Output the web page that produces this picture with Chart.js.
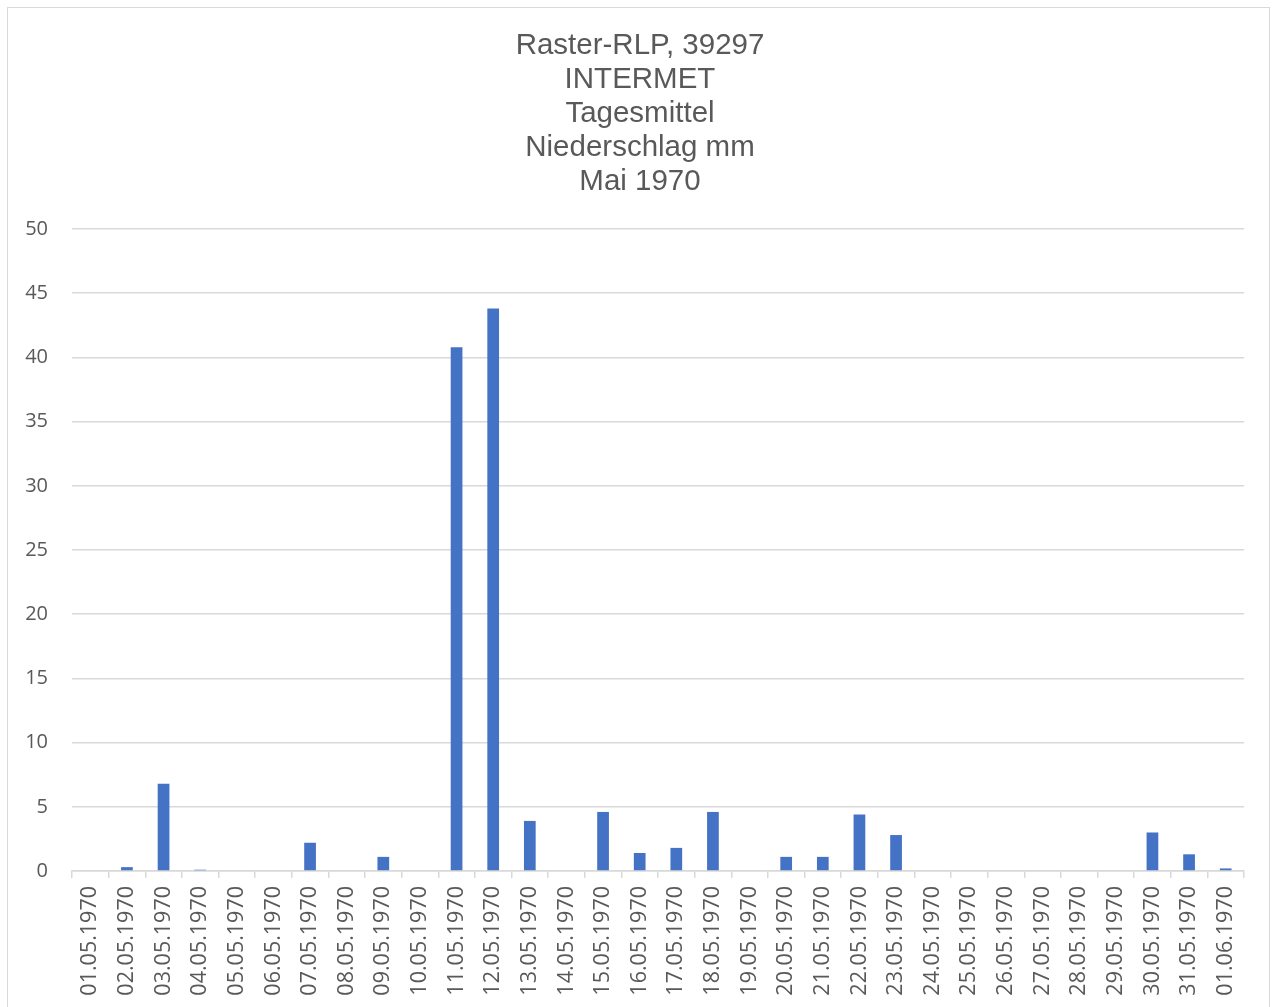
<!DOCTYPE html>
<html>
<head>
<meta charset="utf-8">
<script src="https://cdn.jsdelivr.net/npm/chart.js@4/dist/chart.umd.min.js"></script>
<style>
  html, body { margin: 0; padding: 0; background: #fff; }
  #wrap { position: relative; width: 1274px; height: 1007px; }
  #frame { position: absolute; left: 7px; top: 7px; width: 1263px; height: 1010px; border: 1px solid #d9d9d9; box-sizing: border-box; }
  canvas { position: absolute; left: 0; top: 0; }
</style>
</head>
<body>
<div id="wrap">
  <div id="frame"></div>
  <canvas id="chart" width="1274" height="1007"></canvas>
</div>
<script>
const titleLines = ["Raster-RLP, 39297", "INTERMET", "Tagesmittel", "Niederschlag mm", "Mai 1970"]

const days = [
  "01.05.1970", "02.05.1970", "03.05.1970", "04.05.1970", "05.05.1970", "06.05.1970",
  "07.05.1970", "08.05.1970", "09.05.1970", "10.05.1970", "11.05.1970", "12.05.1970",
  "13.05.1970", "14.05.1970", "15.05.1970", "16.05.1970", "17.05.1970", "18.05.1970",
  "19.05.1970", "20.05.1970", "21.05.1970", "22.05.1970", "23.05.1970", "24.05.1970",
  "25.05.1970", "26.05.1970", "27.05.1970", "28.05.1970", "29.05.1970", "30.05.1970",
  "31.05.1970", "01.06.1970"
]

const niederschlag = [
  0, 0.3, 6.8, 0.1, 0, 0,
  2.2, 0, 1.1, 0, 40.8, 43.8,
  3.9, 0, 4.6, 1.4, 1.8, 4.6,
  0, 1.1, 1.1, 4.4, 2.8, 0,
  0, 0, 0, 0, 0, 3.0,
  1.3, 0.2
]

const yMin = 0
const yMax = 50
const yStep = 5

const grey = "#595959"
const gridGrey = "#d9d9d9"

const ctx = document.getElementById("chart").getContext("2d")
new Chart(ctx, {
  type: "bar",
  data: {
    labels: days,
    datasets: [{
      label: "Niederschlag",
      data: niederschlag,
      backgroundColor: "#4472c4",
      borderWidth: 0,
      categoryPercentage: 1,
      barPercentage: 0.32
    }]
  },
  options: {
    responsive: false,
    animation: false,
    layout: { padding: { left: 6, right: 0, top: 0, bottom: 0 } },
    plugins: {
      legend: { display: false },
      tooltip: { enabled: false },
      title: {
        display: true,
        text: titleLines,
        color: grey,
        font: { family: "'Liberation Sans', Arial, sans-serif", size: 29.5, weight: "normal", lineHeight: 34 / 29.5 },
        padding: { top: 29, bottom: 30 }
      }
    },
    scales: {
      x: {
        grid: {
          display: true,
          offset: true,
          drawOnChartArea: false,
          drawTicks: true,
          tickLength: 7,
          color: gridGrey,
          lineWidth: 1.5
        },
        border: { display: true, color: gridGrey, width: 1.5 },
        ticks: {
          autoSkip: false,
          minRotation: 90,
          maxRotation: 90,
          padding: 8,
          color: grey,
          font: { family: "'Open Sans', sans-serif", size: 21.5 }
        },
        afterFit(scale) { scale.height = 136 }
      },
      y: {
        min: yMin,
        max: yMax,
        grid: { color: gridGrey, lineWidth: 1.5, drawTicks: false },
        border: { display: false },
        ticks: {
          stepSize: yStep,
          padding: 24,
          color: grey,
          font: { family: "'Open Sans', sans-serif", size: 20 }
        },
        afterFit(scale) { scale.width = 66 }
      },
      // empty right axis, only keeps the plot's right margin
      spacer: {
        type: "linear",
        position: "right",
        grid: { display: false },
        border: { display: false },
        ticks: { display: false },
        afterFit(scale) { scale.width = 30 }
      }
    }
  }
})
</script>
</body>
</html>
